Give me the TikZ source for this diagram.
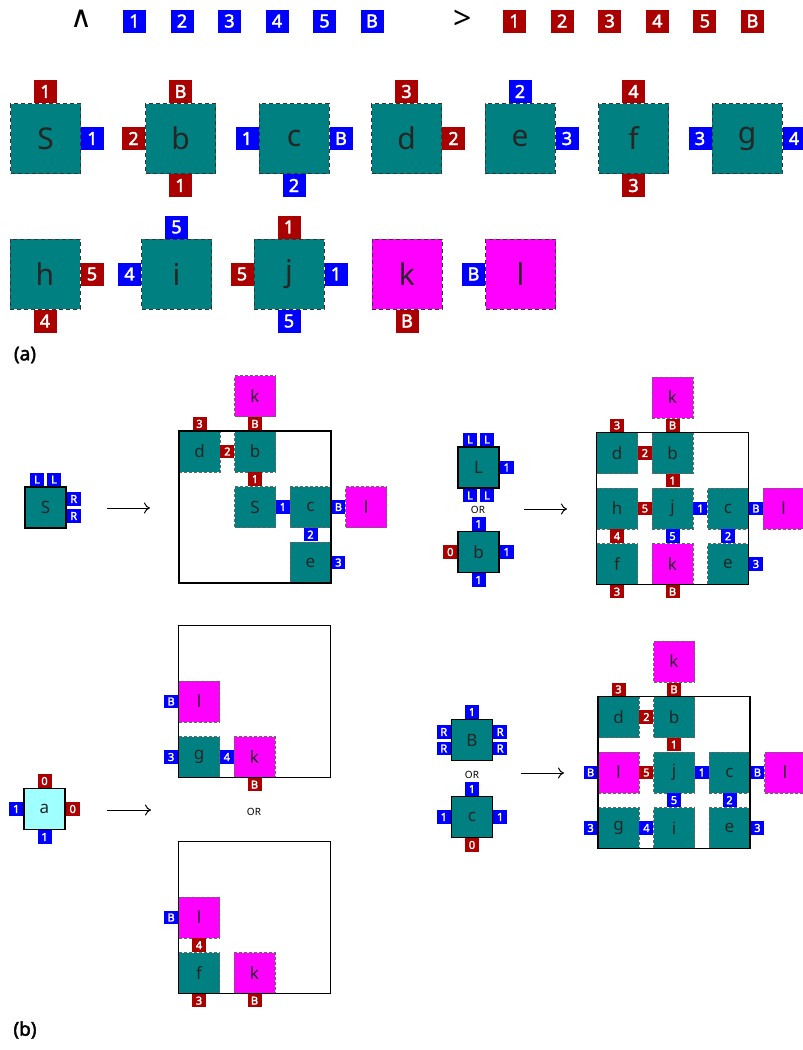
\documentclass[tikz,border=0pt]{standalone}
\usepackage{fontspec}
\setmainfont{Noto Sans}[AutoFakeBold=2.2]
\newfontfamily\symfont{DejaVu Sans}
\usepackage{xcolor}
\definecolor{tilegreen}{RGB}{0,128,128}
\definecolor{tilemag}{RGB}{255,0,255}
\definecolor{glueblue}{RGB}{0,0,255}
\definecolor{gluered}{RGB}{170,0,0}
\definecolor{seedcyan}{RGB}{160,255,255}
\usepackage{tikz}
\usetikzlibrary{arrows.meta,positioning}
\tikzset{
  bigtile/.style={minimum size=70pt,inner sep=0pt,draw=black!80,dash pattern=on 4pt off 3pt,line width=1pt,text=black!85,font=\fontsize{30}{30}\selectfont},
  smalltile/.style={minimum size=41pt,inner sep=0pt,draw=black!60,dash pattern=on 3pt off 2pt,line width=0.8pt,text=black!85,font=\fontsize{17}{17}\selectfont},
  intile/.style={minimum size=41pt,inner sep=0pt,draw=black,line width=1.4pt,fill=tilegreen,text=black!85,font=\fontsize{17}{17}\selectfont},
  bigglue/.style={minimum width=23pt,minimum height=23pt,inner sep=0pt,outer sep=0pt,text=white,font=\bfseries\fontsize{18}{18}\selectfont},
  smallglue/.style={minimum width=14pt,minimum height=13.5pt,inner sep=0pt,outer sep=0pt,text=white,font=\bfseries\fontsize{11}{11}\selectfont},
  bl/.style={fill=glueblue},
  rd/.style={fill=gluered},
  frame/.style={draw=black,line width=1.4pt},
  ornote/.style={font=\fontsize{10}{10}\selectfont},
  arr/.style={-{To[length=6pt,width=11pt]},line width=1pt},
  caption/.style={font=\bfseries\fontsize{19}{19}\selectfont},
}

\begin{document}
\begin{tikzpicture}[x=1pt,y=-1pt]
  \useasboundingbox (0,0) rectangle (803,1050);
  % legend
  \node (lwedge) at (81,19) {\symfont\fontsize{30}{30}\selectfont ∧};
  \foreach \t [count=\i from 0] in {1,2,3,4,5,B}
    \node[bigglue,bl] (lb\i) at (134.5+47.5*\i,21) {\t};
  \node (lgt) at (463,20) {\fontsize{32}{32}\selectfont >};
  \foreach \t [count=\i from 0] in {1,2,3,4,5,B}
    \node[bigglue,rd] (lr\i) at (514.5+47.6*\i,21) {\t};

  % (a) tile set, first row
  \node[bigtile,fill=tilegreen] (aS) at (45.5,138.5) {S};
  \node[bigglue,rd,above=0pt of aS] (aS-n) {1};
  \node[bigglue,bl,right=0pt of aS] (aS-e) {1};
  \node[bigtile,fill=tilegreen] (ab) at (180.5,138.5) {b};
  \node[bigglue,rd,above=0pt of ab] (ab-n) {B};
  \node[bigglue,rd,left=0pt of ab] (ab-w) {2};
  \node[bigglue,rd,below=0pt of ab] (ab-s) {1};
  \node[bigtile,fill=tilegreen] (ac) at (294,138.5) {c};
  \node[bigglue,bl,left=0pt of ac] (ac-w) {1};
  \node[bigglue,bl,right=0pt of ac] (ac-e) {B};
  \node[bigglue,bl,below=0pt of ac] (ac-s) {2};
  \node[bigtile,fill=tilegreen] (ad) at (406.5,138.5) {d};
  \node[bigglue,rd,above=0pt of ad] (ad-n) {3};
  \node[bigglue,rd,right=0pt of ad] (ad-e) {2};
  \node[bigtile,fill=tilegreen] (ae) at (520,138.5) {e};
  \node[bigglue,bl,above=0pt of ae] (ae-n) {2};
  \node[bigglue,bl,right=0pt of ae] (ae-e) {3};
  \node[bigtile,fill=tilegreen] (af) at (633.5,138.5) {f};
  \node[bigglue,rd,above=0pt of af] (af-n) {4};
  \node[bigglue,rd,below=0pt of af] (af-s) {3};
  \node[bigtile,fill=tilegreen] (ag) at (747,138.5) {g};
  \node[bigglue,bl,left=0pt of ag] (ag-w) {3};
  \node[bigglue,bl,right=0pt of ag] (ag-e) {4};
  % (a) second row
  \node[bigtile,fill=tilegreen] (ah) at (45,274) {h};
  \node[bigglue,rd,right=0pt of ah] (ah-e) {5};
  \node[bigglue,rd,below=0pt of ah] (ah-s) {4};
  \node[bigtile,fill=tilegreen] (ai) at (176.5,274) {i};
  \node[bigglue,bl,above=0pt of ai] (ai-n) {5};
  \node[bigglue,bl,left=0pt of ai] (ai-w) {4};
  \node[bigtile,fill=tilegreen] (aj) at (289,274) {j};
  \node[bigglue,rd,above=0pt of aj] (aj-n) {1};
  \node[bigglue,rd,left=0pt of aj] (aj-w) {5};
  \node[bigglue,bl,right=0pt of aj] (aj-e) {1};
  \node[bigglue,bl,below=0pt of aj] (aj-s) {5};
  \node[bigtile,fill=tilemag] (ak) at (407,274) {k};
  \node[bigglue,rd,below=0pt of ak] (ak-s) {B};
  \node[bigtile,fill=tilemag] (al) at (520.5,274) {l};
  \node[bigglue,bl,left=0pt of al] (al-w) {B};
  \node[caption] (capa) at (25,355) {(a)};

  % (b) seed S
  \node[intile] (sS) at (45.5,507.5) {S};
  \node[smallglue,bl,above=0pt of sS,xshift=-8.5pt] (sS-n1) {L};
  \node[smallglue,bl,above=0pt of sS,xshift=8.5pt] (sS-n2) {L};
  \node[smallglue,bl,right=0pt of sS,yshift=8.5pt] (sS-e1) {R};
  \node[smallglue,bl,right=0pt of sS,yshift=-8.5pt] (sS-e2) {R};
  \coordinate (ar1a) at (107,508);
  \coordinate (ar1b) at (150,508);
  \draw[arr] (ar1a) -- (ar1b);
  \begin{scope}[shift={(179,431)}]
    \node[smalltile,fill=tilemag] (p1k) at (76,-35) {k};
    \node[smalltile,fill=tilegreen] (p1d) at (20.5,20.5) {d};
    \node[smallglue,rd,above=0pt of p1d] (p1d-n) {3};
    \node[smallglue,rd,right=0pt of p1d] (p1d-e) {2};
    \node[smalltile,fill=tilegreen] (p1b) at (76,20.5) {b};
    \node[smallglue,rd,above=0pt of p1b] (p1b-n) {B};
    \node[smallglue,rd,below=0pt of p1b] (p1b-s) {1};
    \node[smalltile,fill=tilegreen] (p1S) at (76,76) {S};
    \node[smallglue,bl,right=0pt of p1S] (p1S-e) {1};
    \node[smalltile,fill=tilegreen] (p1c) at (131.5,76) {c};
    \node[smallglue,bl,right=0pt of p1c] (p1c-e) {B};
    \node[smallglue,bl,below=0pt of p1c] (p1c-s) {2};
    \node[smalltile,fill=tilemag] (p1l) at (187,76) {l};
    \node[smalltile,fill=tilegreen] (p1e) at (131.5,131.5) {e};
    \node[smallglue,bl,right=0pt of p1e] (p1e-e) {3};
    \draw[frame] (0,0) rectangle (152,152);
  \end{scope}

  % (b) L or b
  \node[intile] (sL) at (478.5,467.5) {L};
  \node[smallglue,bl,above=0pt of sL,xshift=-8.5pt] (sL-n1) {L};
  \node[smallglue,bl,above=0pt of sL,xshift=8.5pt] (sL-n2) {L};
  \node[smallglue,bl,below=0pt of sL,xshift=-8.5pt] (sL-s1) {L};
  \node[smallglue,bl,below=0pt of sL,xshift=8.5pt] (sL-s2) {L};
  \node[smallglue,bl,right=0pt of sL] (sL-e) {1};
  \node[ornote] (or1) at (478,510) {OR};
  \node[intile] (sb) at (478.5,552) {b};
  \node[smallglue,bl,above=0pt of sb] (sb-n) {1};
  \node[smallglue,rd,left=0pt of sb] (sb-w) {0};
  \node[smallglue,bl,right=0pt of sb] (sb-e) {1};
  \node[smallglue,bl,below=0pt of sb] (sb-s) {1};
  \coordinate (ar2a) at (524,509);
  \coordinate (ar2b) at (567,509);
  \draw[arr] (ar2a) -- (ar2b);
  \begin{scope}[shift={(596.5,432.5)}]
    \node[smalltile,fill=tilemag] (p2k) at (76,-35) {k};
    \node[smalltile,fill=tilegreen] (p2d) at (20.5,20.5) {d};
    \node[smallglue,rd,above=0pt of p2d] (p2d-n) {3};
    \node[smallglue,rd,right=0pt of p2d] (p2d-e) {2};
    \node[smalltile,fill=tilegreen] (p2b) at (76,20.5) {b};
    \node[smallglue,rd,above=0pt of p2b] (p2b-n) {B};
    \node[smallglue,rd,below=0pt of p2b] (p2b-s) {1};
    \node[smalltile,fill=tilegreen] (p2h) at (20.5,76) {h};
    \node[smallglue,rd,right=0pt of p2h] (p2h-e) {5};
    \node[smallglue,rd,below=0pt of p2h] (p2h-s) {4};
    \node[smalltile,fill=tilegreen] (p2j) at (76,76) {j};
    \node[smallglue,bl,right=0pt of p2j] (p2j-e) {1};
    \node[smallglue,bl,below=0pt of p2j] (p2j-s) {5};
    \node[smalltile,fill=tilegreen] (p2c) at (131.5,76) {c};
    \node[smallglue,bl,right=0pt of p2c] (p2c-e) {B};
    \node[smallglue,bl,below=0pt of p2c] (p2c-s) {2};
    \node[smalltile,fill=tilemag] (p2l) at (187,76) {l};
    \node[smalltile,fill=tilegreen] (p2f) at (20.5,131.5) {f};
    \node[smallglue,rd,below=0pt of p2f] (p2f-s) {3};
    \node[smalltile,fill=tilemag] (p2k2) at (76,131.5) {k};
    \node[smallglue,rd,below=0pt of p2k2] (p2k2-s) {B};
    \node[smalltile,fill=tilegreen] (p2e) at (131.5,131.5) {e};
    \node[smallglue,bl,right=0pt of p2e] (p2e-e) {3};
    \draw[frame] (0,0) rectangle (152,152);
  \end{scope}

  % (b) seed a
  \node[intile,fill=seedcyan] (sa) at (44.5,809) {a};
  \node[smallglue,rd,above=0pt of sa] (sa-n) {0};
  \node[smallglue,bl,left=0pt of sa] (sa-w) {1};
  \node[smallglue,rd,right=0pt of sa] (sa-e) {0};
  \node[smallglue,bl,below=0pt of sa] (sa-s) {1};
  \coordinate (ar3a) at (107,810);
  \coordinate (ar3b) at (151,810);
  \draw[arr] (ar3a) -- (ar3b);
  \node[ornote] (or2) at (254,812) {OR};
  \begin{scope}[shift={(178.5,625.5)}]
    \node[smalltile,fill=tilemag] (p3l) at (20.5,76) {l};
    \node[smallglue,bl,left=0pt of p3l] (p3l-w) {B};
    \node[smalltile,fill=tilegreen] (p3g) at (20.5,131.5) {g};
    \node[smallglue,bl,left=0pt of p3g] (p3g-w) {3};
    \node[smallglue,bl,right=0pt of p3g] (p3g-e) {4};
    \node[smalltile,fill=tilemag] (p3k) at (76,131.5) {k};
    \node[smallglue,rd,below=0pt of p3k] (p3k-s) {B};
    \draw[frame] (0,0) rectangle (152,152);
  \end{scope}
  \begin{scope}[shift={(178.5,841.5)}]
    \node[smalltile,fill=tilemag] (p4l) at (20.5,76) {l};
    \node[smallglue,bl,left=0pt of p4l] (p4l-w) {B};
    \node[smallglue,rd,below=0pt of p4l] (p4l-s) {4};
    \node[smalltile,fill=tilegreen] (p4f) at (20.5,131.5) {f};
    \node[smallglue,rd,below=0pt of p4f] (p4f-s) {3};
    \node[smalltile,fill=tilemag] (p4k) at (76,131.5) {k};
    \node[smallglue,rd,below=0pt of p4k] (p4k-s) {B};
    \draw[frame] (0,0) rectangle (152,152);
  \end{scope}

  % (b) B or c
  \node[intile] (sB) at (472,740) {B};
  \node[smallglue,bl,above=0pt of sB] (sB-n) {1};
  \node[smallglue,bl,left=0pt of sB,yshift=8pt] (sB-w1) {R};
  \node[smallglue,bl,left=0pt of sB,yshift=-8.5pt] (sB-w2) {R};
  \node[smallglue,bl,right=0pt of sB,yshift=8pt] (sB-e1) {R};
  \node[smallglue,bl,right=0pt of sB,yshift=-8.5pt] (sB-e2) {R};
  \node[ornote] (or3) at (472,775) {OR};
  \node[intile] (sc) at (472,817) {c};
  \node[smallglue,bl,above=0pt of sc] (sc-n) {1};
  \node[smallglue,bl,left=0pt of sc] (sc-w) {1};
  \node[smallglue,bl,right=0pt of sc] (sc-e) {1};
  \node[smallglue,rd,below=0pt of sc] (sc-s) {0};
  \coordinate (ar4a) at (521,773);
  \coordinate (ar4b) at (564,773);
  \draw[arr] (ar4a) -- (ar4b);
  \begin{scope}[shift={(598,696.5)}]
    \node[smalltile,fill=tilemag] (p5k) at (76,-35) {k};
    \node[smalltile,fill=tilegreen] (p5d) at (20.5,20.5) {d};
    \node[smallglue,rd,above=0pt of p5d] (p5d-n) {3};
    \node[smallglue,rd,right=0pt of p5d] (p5d-e) {2};
    \node[smalltile,fill=tilegreen] (p5b) at (76,20.5) {b};
    \node[smallglue,rd,above=0pt of p5b] (p5b-n) {B};
    \node[smallglue,rd,below=0pt of p5b] (p5b-s) {1};
    \node[smalltile,fill=tilemag] (p5l) at (20.5,76) {l};
    \node[smallglue,bl,left=0pt of p5l] (p5l-w) {B};
    \node[smallglue,rd,right=0pt of p5l] (p5l-e) {5};
    \node[smalltile,fill=tilegreen] (p5j) at (76,76) {j};
    \node[smallglue,bl,right=0pt of p5j] (p5j-e) {1};
    \node[smallglue,bl,below=0pt of p5j] (p5j-s) {5};
    \node[smalltile,fill=tilegreen] (p5c) at (131.5,76) {c};
    \node[smallglue,bl,right=0pt of p5c] (p5c-e) {B};
    \node[smallglue,bl,below=0pt of p5c] (p5c-s) {2};
    \node[smalltile,fill=tilemag] (p5l2) at (187,76) {l};
    \node[smalltile,fill=tilegreen] (p5g) at (20.5,131.5) {g};
    \node[smallglue,bl,left=0pt of p5g] (p5g-w) {3};
    \node[smallglue,bl,right=0pt of p5g] (p5g-e) {4};
    \node[smalltile,fill=tilegreen] (p5i) at (76,131.5) {i};
    \node[smalltile,fill=tilegreen] (p5e) at (131.5,131.5) {e};
    \node[smallglue,bl,right=0pt of p5e] (p5e-e) {3};
    \draw[frame] (0,0) rectangle (152,152);
  \end{scope}
  \node[caption] (capb) at (25,1030) {(b)};
\end{tikzpicture}
\end{document}
